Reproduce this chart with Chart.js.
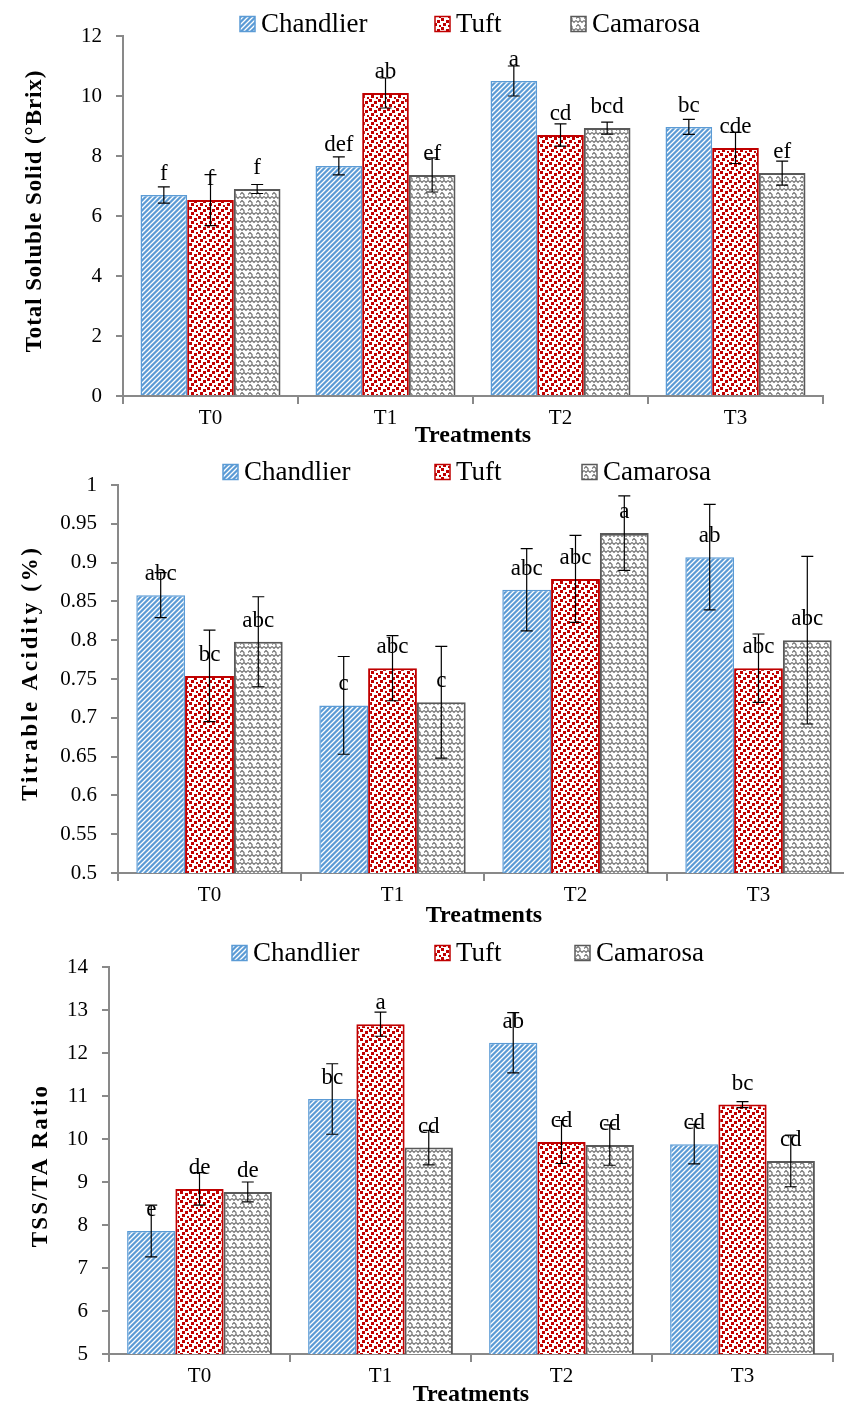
<!DOCTYPE html>
<html>
<head>
<meta charset="utf-8">
<script src="https://cdn.jsdelivr.net/npm/chart.js@4.4.1/dist/chart.umd.min.js"></script>
<style>
  body { margin: 0; background: #fff; width: 844px; height: 1409px; overflow: hidden; position: relative; }
  .box { position: absolute; left: 0; }
</style>
</head>
<body>
<div class="box" style="top:0;width:844px;height:450px"><canvas id="tssChart"></canvas></div>
<div class="box" style="top:450px;width:860px;height:480px"><canvas id="taChart"></canvas></div>
<div class="box" style="top:930px;width:844px;height:479px"><canvas id="ratioChart"></canvas></div>
<script>
const treatments = ['T0', 'T1', 'T2', 'T3'];
const varieties = ['Chandlier', 'Tuft', 'Camarosa'];

// Total soluble solids (°Brix)
const tssChandlier = [6.7, 7.67, 10.5, 8.97];
const tssTuft = [6.53, 10.1, 8.7, 8.27];
const tssCamarosa = [6.9, 7.37, 8.93, 7.43];
const tssErrChandlier = [0.27, 0.3, 0.5, 0.25];
const tssErrTuft = [0.85, 0.5, 0.37, 0.52];
const tssErrCamarosa = [0.15, 0.57, 0.2, 0.4];
const tssLetChandlier = ['f', 'def', 'a', 'bc'];
const tssLetTuft = ['f', 'ab', 'cd', 'cde'];
const tssLetCamarosa = ['f', 'ef', 'bcd', 'ef'];

// Titrable acidity (%)
const taChandlier = [0.858, 0.716, 0.865, 0.907];
const taTuft = [0.754, 0.764, 0.879, 0.764];
const taCamarosa = [0.798, 0.72, 0.938, 0.80];
const taErrChandlier = [0.029, 0.063, 0.053, 0.068];
const taErrTuft = [0.059, 0.042, 0.056, 0.044];
const taErrCamarosa = [0.058, 0.072, 0.048, 0.108];
const taLetChandlier = ['abc', 'c', 'abc', 'ab'];
const taLetTuft = ['bc', 'abc', 'abc', 'abc'];
const taLetCamarosa = ['abc', 'c', 'a', 'abc'];

// TSS/TA ratio
const ratioChandlier = [7.86, 10.93, 12.24, 9.88];
const ratioTuft = [8.84, 12.67, 9.93, 10.8];
const ratioCamarosa = [8.77, 9.8, 9.86, 9.49];
const ratioErrChandlier = [0.6, 0.82, 0.7, 0.46];
const ratioErrTuft = [0.38, 0.28, 0.5, 0.07];
const ratioErrCamarosa = [0.23, 0.4, 0.47, 0.6];
const ratioLetChandlier = ['e', 'bc', 'ab', 'cd'];
const ratioLetTuft = ['de', 'a', 'cd', 'bc'];
const ratioLetCamarosa = ['de', 'cd', 'cd', 'cd'];

const AXIS_GREY = '#898989';
const BLUE = '#5B9BD5';
const RED = '#C00000';
const GREY = '#595959';
const SERIF = '"Liberation Serif", "Times New Roman", serif';

Chart.defaults.font.family = SERIF;
Chart.defaults.color = '#000';

// fill patterns
const scratch = document.createElement('canvas').getContext('2d');

function makeTile(w, h, draw) {
    const c = document.createElement('canvas');
    c.width = w;
    c.height = h;
    draw(c.getContext('2d'));
    return scratch.createPattern(c, 'repeat');
}

const stripePattern = makeTile(5, 5, function(g) {
    g.fillStyle = BLUE;
    g.fillRect(0, 0, 5, 5);
    g.strokeStyle = '#fff';
    g.lineWidth = 1.3;
    g.beginPath();
    g.moveTo(-1, 6); g.lineTo(6, -1);
    g.moveTo(-1, 1); g.lineTo(1, -1);
    g.moveTo(4, 6); g.lineTo(6, 4);
    g.stroke();
});

const dotPattern = makeTile(9, 9, function(g) {
    g.fillStyle = '#fff';
    g.fillRect(0, 0, 9, 9);
    g.fillStyle = RED;
    g.fillRect(0, 0, 3, 3);
    g.fillRect(5, 2, 3, 3);
    g.fillRect(2, 5, 3, 3);
    g.fillRect(7, 7, 2, 2);
});

const wavePattern = makeTile(8, 8, function(g) {
    g.fillStyle = '#fff';
    g.fillRect(0, 0, 8, 8);
    g.strokeStyle = '#777';
    g.lineWidth = 1.2;
    g.beginPath();
    g.moveTo(0, 2.5); g.lineTo(2, 0.5); g.lineTo(4, 2.5); g.lineTo(4, 4.5);
    g.lineTo(6, 6.5); g.lineTo(8, 4.5);
    g.moveTo(4, 4.5); g.lineTo(2, 6.5); g.lineTo(0, 4.5);
    g.stroke();
});

const errorBars = {
    id: 'errorBars',
    afterDatasetsDraw(chart) {
        const ctx = chart.ctx;
        const y = chart.scales.y;
        chart.data.datasets.forEach(function(ds, di) {
            const meta = chart.getDatasetMeta(di);
            meta.data.forEach(function(bar, i) {
                const v = ds.data[i];
                const e = ds.errors[i];
                const top = y.getPixelForValue(v + e);
                const bot = y.getPixelForValue(v - e);
                ctx.save();
                ctx.strokeStyle = '#000';
                ctx.lineWidth = 1.2;
                ctx.beginPath();
                ctx.moveTo(bar.x, top); ctx.lineTo(bar.x, bot);
                ctx.moveTo(bar.x - 6, top); ctx.lineTo(bar.x + 6, top);
                ctx.moveTo(bar.x - 6, bot); ctx.lineTo(bar.x + 6, bot);
                ctx.stroke();
                ctx.font = '23px ' + SERIF;
                ctx.fillStyle = '#000';
                ctx.textAlign = 'center';
                ctx.textBaseline = 'middle';
                ctx.fillText(ds.letters[i], bar.x, bar.y - 21);
                ctx.restore();
            });
        });
    }
};

const legendRow = {
    id: 'legendRow',
    afterDraw(chart, args, opts) {
        const ctx = chart.ctx;
        ctx.save();
        ctx.font = '27px ' + SERIF;
        ctx.textBaseline = 'middle';
        chart.data.datasets.forEach(function(ds, i) {
            const x = opts.xs[i];
            ctx.fillStyle = ds.backgroundColor;
            ctx.fillRect(x, opts.y - 7.5, 15, 15);
            ctx.strokeStyle = ds.borderColor;
            ctx.lineWidth = 1.5;
            ctx.strokeRect(x, opts.y - 7.5, 15, 15);
            ctx.fillStyle = '#000';
            ctx.fillText(ds.label, x + 21, opts.y + 1);
        });
        ctx.restore();
    }
};

// spaced-out vertical axis title, centred on the plot area
const yTitle = {
    id: 'yTitle',
    afterDraw(chart, args, opts) {
        const ctx = chart.ctx;
        const area = chart.chartArea;
        ctx.save();
        ctx.font = 'bold 23px ' + SERIF;
        ctx.letterSpacing = opts.spacing + 'px';
        ctx.fillStyle = '#000';
        ctx.textAlign = 'center';
        ctx.textBaseline = 'middle';
        ctx.translate(opts.x, (area.top + area.bottom) / 2 + opts.shift);
        ctx.rotate(-Math.PI / 2);
        ctx.fillText(opts.text, 0, 0);
        ctx.restore();
    }
};

Chart.register(errorBars, legendRow, yTitle);

function dataset(label, values, errors, letters, fill, border, width) {
    return {
        label: label,
        data: values,
        errors: errors,
        letters: letters,
        backgroundColor: fill,
        borderColor: border,
        borderWidth: width,
        categoryPercentage: 0.8,
        barPercentage: 1.0
    };
}

function buildChart(id, cfg) {
    new Chart(document.getElementById(id), {
        type: 'bar',
        data: {
            labels: treatments,
            datasets: [
                dataset(varieties[0], cfg.values[0], cfg.errors[0], cfg.letters[0], stripePattern, BLUE, 1.5),
                dataset(varieties[1], cfg.values[1], cfg.errors[1], cfg.letters[1], dotPattern, RED, 2),
                dataset(varieties[2], cfg.values[2], cfg.errors[2], cfg.letters[2], wavePattern, GREY, 2)
            ]
        },
        options: {
            responsive: true,
            maintainAspectRatio: false,
            animation: false,
            devicePixelRatio: 1,
            layout: { padding: { top: cfg.padTop, right: cfg.padRight, left: 0, bottom: 0 } },
            plugins: {
                legend: { display: false },
                tooltip: { enabled: false },
                legendRow: { xs: cfg.legendXs, y: cfg.legendY },
                yTitle: { text: cfg.yTitle, x: cfg.titleX, spacing: cfg.titleSpacing, shift: cfg.titleShift }
            },
            scales: {
                x: {
                    afterFit: function(s) { s.height = cfg.xHeight; },
                    grid: { offset: true, drawOnChartArea: false, tickLength: 8, color: AXIS_GREY, lineWidth: 2 },
                    border: { color: AXIS_GREY, width: 2 },
                    ticks: { font: { size: 21 }, padding: 2 },
                    title: { display: true, text: 'Treatments', font: { size: 24, weight: 'bold' }, padding: { top: 0, bottom: 0 } }
                },
                y: {
                    min: cfg.min,
                    max: cfg.max,
                    afterFit: function(s) { s.width = cfg.yWidth; },
                    grid: { drawOnChartArea: false, tickLength: 7, color: AXIS_GREY, lineWidth: 2 },
                    border: { color: AXIS_GREY, width: 2 },
                    ticks: {
                        stepSize: cfg.step,
                        font: { size: 21 },
                        padding: 14,
                        callback: function(v) { return String(Math.round(v * 100) / 100); }
                    }
                }
            }
        }
    });
}

buildChart('tssChart', {
    values: [tssChandlier, tssTuft, tssCamarosa],
    errors: [tssErrChandlier, tssErrTuft, tssErrCamarosa],
    letters: [tssLetChandlier, tssLetTuft, tssLetCamarosa],
    min: 0, max: 12, step: 2,
    yTitle: 'Total Soluble Solid (°Brix)', titleX: 35, titleSpacing: 0.9, titleShift: -5,
    padTop: 36, padRight: 21, xHeight: 54, yWidth: 123,
    legendXs: [240, 435, 571], legendY: 24
});

buildChart('taChart', {
    values: [taChandlier, taTuft, taCamarosa],
    errors: [taErrChandlier, taErrTuft, taErrCamarosa],
    letters: [taLetChandlier, taLetTuft, taLetCamarosa],
    min: 0.5, max: 1, step: 0.05,
    yTitle: 'Titrable Acidity (%)', titleX: 31, titleSpacing: 2.7, titleShift: -6,
    padTop: 35, padRight: 10, xHeight: 57, yWidth: 118,
    legendXs: [223, 435, 582], legendY: 22
});

buildChart('ratioChart', {
    values: [ratioChandlier, ratioTuft, ratioCamarosa],
    errors: [ratioErrChandlier, ratioErrTuft, ratioErrCamarosa],
    letters: [ratioLetChandlier, ratioLetTuft, ratioLetCamarosa],
    min: 5, max: 14, step: 1,
    yTitle: 'TSS/TA Ratio', titleX: 41, titleSpacing: 2.2, titleShift: 5,
    padTop: 37, padRight: 11, xHeight: 55, yWidth: 109,
    legendXs: [232, 435, 575], legendY: 23
});
</script>
</body>
</html>
